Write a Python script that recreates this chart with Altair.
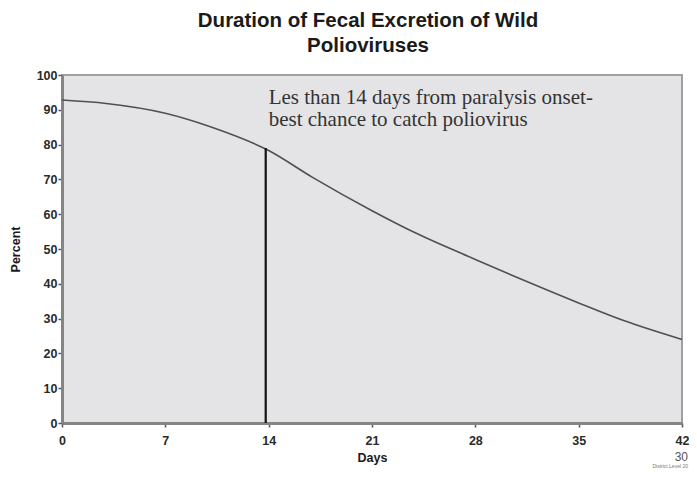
import altair as alt
import pandas as pd

days = [0, 3, 7, 10, 14, 17, 21, 24, 28, 31, 35, 38, 42]
percent = [92.8, 91.8, 89.0, 85.2, 78.3, 70.5, 61.0, 54.5, 47.0, 41.5, 34.5, 29.5, 24.0]

marker_day = [13.8]
marker_top = [79.0]

note_lines = ["Les than 14 days from paralysis onset-", "best chance to catch poliovirus"]
note_x = [14.0, 14.0]
note_y = [91.8, 85.3]

y_ticks = [0, 10, 20, 30, 40, 50, 60, 70, 80, 90, 100]
x_ticks = [0, 7, 14, 21, 28, 35, 42]

curve = pd.DataFrame({"Days": days, "Percent": percent})
marker = pd.DataFrame({"Days": marker_day, "Percent": [0], "y1": marker_top})
notes = pd.DataFrame({"text": note_lines, "Days": note_x, "Percent": note_y})

xscale = alt.Scale(domain=[0, 42], nice=False, zero=False)
yscale = alt.Scale(domain=[0, 100], nice=False)

xaxis = alt.Axis(values=x_ticks, title="Days", grid=False,
                 labelFont="Liberation Sans", labelFontWeight="bold", labelFontSize=12.5,
                 labelColor="#2a2a2a", titleFont="Liberation Sans", titleFontWeight="bold",
                 titleFontSize=12.5, titleColor="#1a1a1a", domainColor="#858585", domainWidth=3,
                 tickColor="#555555", tickSize=4, tickWidth=1.5, labelPadding=7, titlePadding=5,
                 labelFlush=False, labelOverlap=False)
yaxis = alt.Axis(values=y_ticks, tickCount=11, title="Percent", grid=False,
                 labelFont="Liberation Sans", labelFontWeight="bold", labelFontSize=12.5,
                 labelColor="#2a2a2a", titleFont="Liberation Sans", titleFontWeight="bold",
                 titleFontSize=12.5, titleColor="#1a1a1a", domainColor="#858585", domainWidth=3,
                 tickColor="#555555", tickSize=4, tickWidth=1.5, labelPadding=1, titlePadding=14,
                 labelFlush=False, labelOverlap=False)

X = alt.X("Days:Q", scale=xscale, axis=xaxis, title="Days")
Y = alt.Y("Percent:Q", scale=yscale, axis=yaxis, title="Percent")

line = alt.Chart(curve).mark_line(color="#505050", strokeWidth=1.6, interpolate="monotone").encode(
    x=X, y=Y,
)

vline = alt.Chart(marker).mark_rule(color="#111111", strokeWidth=2.2).encode(
    x=X, y=Y, y2="y1:Q",
)

text = alt.Chart(notes).mark_text(align="left", baseline="alphabetic", font="Liberation Serif",
                                   fontSize=21, color="#333333").encode(
    x=X, y=Y, text="text:N",
)

foot = pd.DataFrame({"t": ["30"]})
page = alt.Chart(foot).mark_text(align="right", baseline="alphabetic", font="Liberation Sans",
                                 fontSize=12, color="#555555").encode(
    x=alt.value(626), y=alt.value(386), text="t:N")
foot2 = pd.DataFrame({"t": ["District Level 20"]})
page2 = alt.Chart(foot2).mark_text(align="right", baseline="alphabetic", font="Liberation Sans",
                                   fontSize=5, color="#777777").encode(
    x=alt.value(626), y=alt.value(393), text="t:N")

chart = alt.layer(line, vline, text, page, page2).properties(
    width=620, height=348,
    title=alt.TitleParams(text=["Duration of Fecal Excretion of Wild", "Polioviruses"],
                          font="Liberation Sans", fontSize=20.5, fontWeight="bold",
                          color="#1a1a1a", anchor="middle", lineHeight=25, offset=13, dx=-4),
    autosize=alt.AutoSizeParams(type="none"),
    padding={"left": 54, "top": 67, "right": 7, "bottom": 47},
    background="white",
).configure_view(fill="#e4e4e6", stroke="#a0a0a0", strokeWidth=2)

chart.save("out.html", embed_options={"renderer": "svg", "actions": False})
